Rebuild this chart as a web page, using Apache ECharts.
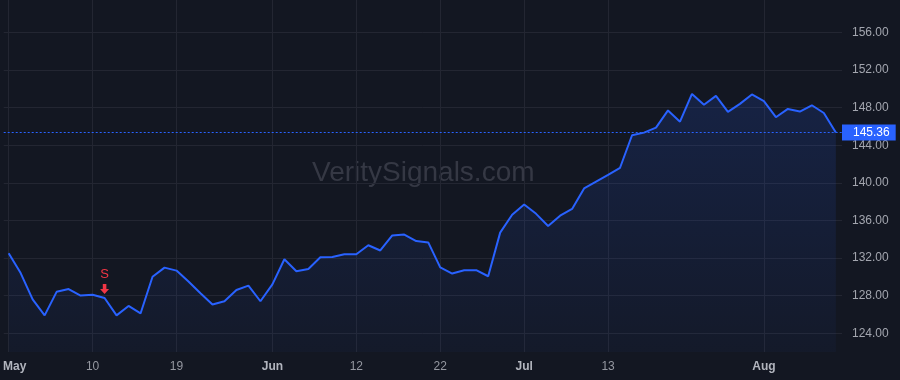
<!DOCTYPE html>
<html>
<head>
<meta charset="utf-8">
<title>VeritySignals chart</title>
<script src="https://cdn.jsdelivr.net/npm/echarts@6/dist/echarts.min.js"></script>
<style>
  html, body { margin: 0; padding: 0; background: #131722; }
  #chart { width: 900px; height: 380px; }
</style>
</head>
<body>
<div id="chart"></div>
<script>
// trading days, May 1 - Aug 9 2023
const dates = [
  '2023-05-01','2023-05-02','2023-05-03','2023-05-04','2023-05-05','2023-05-08','2023-05-09','2023-05-10',
  '2023-05-11','2023-05-12','2023-05-15','2023-05-16','2023-05-17','2023-05-18','2023-05-19','2023-05-22',
  '2023-05-23','2023-05-24','2023-05-25','2023-05-26','2023-05-30','2023-05-31',
  '2023-06-01','2023-06-02','2023-06-05','2023-06-06','2023-06-07','2023-06-08','2023-06-09','2023-06-12',
  '2023-06-13','2023-06-14','2023-06-15','2023-06-16','2023-06-20','2023-06-21','2023-06-22','2023-06-23',
  '2023-06-26','2023-06-27','2023-06-28','2023-06-29','2023-06-30',
  '2023-07-03','2023-07-05','2023-07-06','2023-07-07','2023-07-10','2023-07-11','2023-07-12','2023-07-13',
  '2023-07-14','2023-07-17','2023-07-18','2023-07-19','2023-07-20','2023-07-21','2023-07-24','2023-07-25',
  '2023-07-26','2023-07-27','2023-07-28','2023-07-31',
  '2023-08-01','2023-08-02','2023-08-03','2023-08-04','2023-08-07','2023-08-08','2023-08-09'
];

// closing prices
const closes = [
  132.5, 130.4, 127.6, 125.9, 128.4, 128.7, 128.0, 128.1,
  127.75, 125.9, 126.9, 126.1, 130.0, 130.98, 130.66, 129.5,
  128.25, 127.05, 127.4, 128.6, 129.06, 127.4,
  129.2, 131.87, 130.6, 130.84, 132.08, 132.1, 132.4, 132.4,
  133.36, 132.8, 134.4, 134.5, 133.8, 133.66, 131.0, 130.35,
  130.7, 130.7, 130.06, 134.7, 136.6,
  137.7, 136.7, 135.4, 136.5, 137.22, 139.4, 140.13, 140.84,
  141.6, 145.06, 145.34, 145.87, 147.7, 146.5, 149.46, 148.3,
  149.25, 147.55, 148.4, 149.4,
  148.7, 146.98, 147.86, 147.58, 148.25, 147.43, 145.36
];

// x axis tick labels
const tickDates = ['2023-05-01','2023-05-10','2023-05-19','2023-06-01','2023-06-12','2023-06-22','2023-07-03','2023-07-13','2023-08-01'];
const tickLabels = ['May','10','19','Jun','12','22','Jul','13','Aug'];
const monthLabels = ['May','Jun','Jul','Aug'];

// price scale
const priceTicks = [124, 128, 132, 136, 140, 144, 148, 152, 156];

// sell signal
const signalDate = '2023-05-11';
const signalText = 'S';

const tickIdx = tickDates.map(d => dates.indexOf(d));
const signalIdx = dates.indexOf(signalDate);
const lastPrice = closes[closes.length - 1];

const chart = echarts.init(document.getElementById('chart'));
const font = "'Liberation Sans', Arial, sans-serif";

chart.setOption({
  backgroundColor: '#131722',
  animation: false,
  grid: { left: 0, right: 58, top: 0, bottom: 28 },
  // watermark
  graphic: [{
    type: 'text',
    left: 312,
    top: 159,
    z: 0,
    silent: true,
    style: {
      text: 'VeritySignals.com',
      font: "28px 'Liberation Sans', Arial, sans-serif",
      fill: '#353844'
    }
  }],
  xAxis: {
    type: 'value',
    min: -0.415,
    max: 69.515,
    axisLine: { show: false },
    axisTick: { show: false, customValues: tickIdx },
    splitLine: { show: true, lineStyle: { color: '#232632', width: 1 } },
    axisLabel: {
      customValues: tickIdx,
      margin: 9,
      fontFamily: font,
      fontSize: 12,
      color: '#9598a1',
      formatter: function (v) {
        const i = tickIdx.indexOf(Math.round(v));
        const t = tickLabels[i];
        if (i === 0) return '{first|' + t + '}';
        if (monthLabels.indexOf(t) >= 0) return '{m|' + t + '}';
        return t;
      },
      rich: {
        first: { fontFamily: font, fontSize: 12, fontWeight: 'bold', color: '#b2b5be', padding: [0, 0, 0, 12] },
        m: { fontFamily: font, fontSize: 12, fontWeight: 'bold', color: '#b2b5be' }
      }
    }
  },
  yAxis: {
    type: 'value',
    position: 'right',
    min: 122,
    max: 159.45,
    axisLine: { show: false },
    axisTick: { show: false, customValues: priceTicks },
    splitLine: { show: true, lineStyle: { color: '#232632', width: 1 } },
    axisLabel: {
      customValues: priceTicks,
      margin: 10,
      fontFamily: font,
      fontSize: 12,
      color: '#a3a6af',
      formatter: v => v.toFixed(2)
    }
  },
  series: [{
    type: 'line',
    data: closes.map((c, i) => [i, c]),
    showSymbol: false,
    z: 3,
    lineStyle: { color: '#2962ff', width: 2 },
    itemStyle: { color: '#2962ff' },
    areaStyle: {
      origin: 'start',
      color: new echarts.graphic.LinearGradient(0, 0, 0, 1, [
        { offset: 0, color: 'rgba(41,98,255,0.22)' },
        { offset: 1, color: 'rgba(41,98,255,0.05)' }
      ])
    },
    // last price line + label
    markLine: {
      silent: true,
      symbol: ['none', 'none'],
      lineStyle: { color: '#2962ff', width: 1, type: [2, 2] },
      label: {
        position: 'end',
        distance: 0,
        formatter: p => p.value.toFixed(2),
        fontFamily: font,
        fontSize: 12,
        lineHeight: 12,
        color: '#ffffff',
        backgroundColor: '#2962ff',
        padding: [2, 6, 2, 11]
      },
      data: [{ yAxis: lastPrice }]
    },
    markPoint: {
      silent: true,
      data: [{
        coord: [signalIdx, closes[signalIdx]],
        symbol: 'path://M3,0 L7,0 L7,5 L10,5 L5,10 L0,5 L3,5 Z',
        symbolSize: [9, 10],
        symbolOffset: [0, -9],
        itemStyle: { color: '#f23645' },
        label: {
          show: true,
          formatter: signalText,
          position: 'top',
          distance: 3,
          fontFamily: font,
          fontSize: 13,
          color: '#f23645'
        }
      }]
    }
  }]
});
</script>
</body>
</html>
